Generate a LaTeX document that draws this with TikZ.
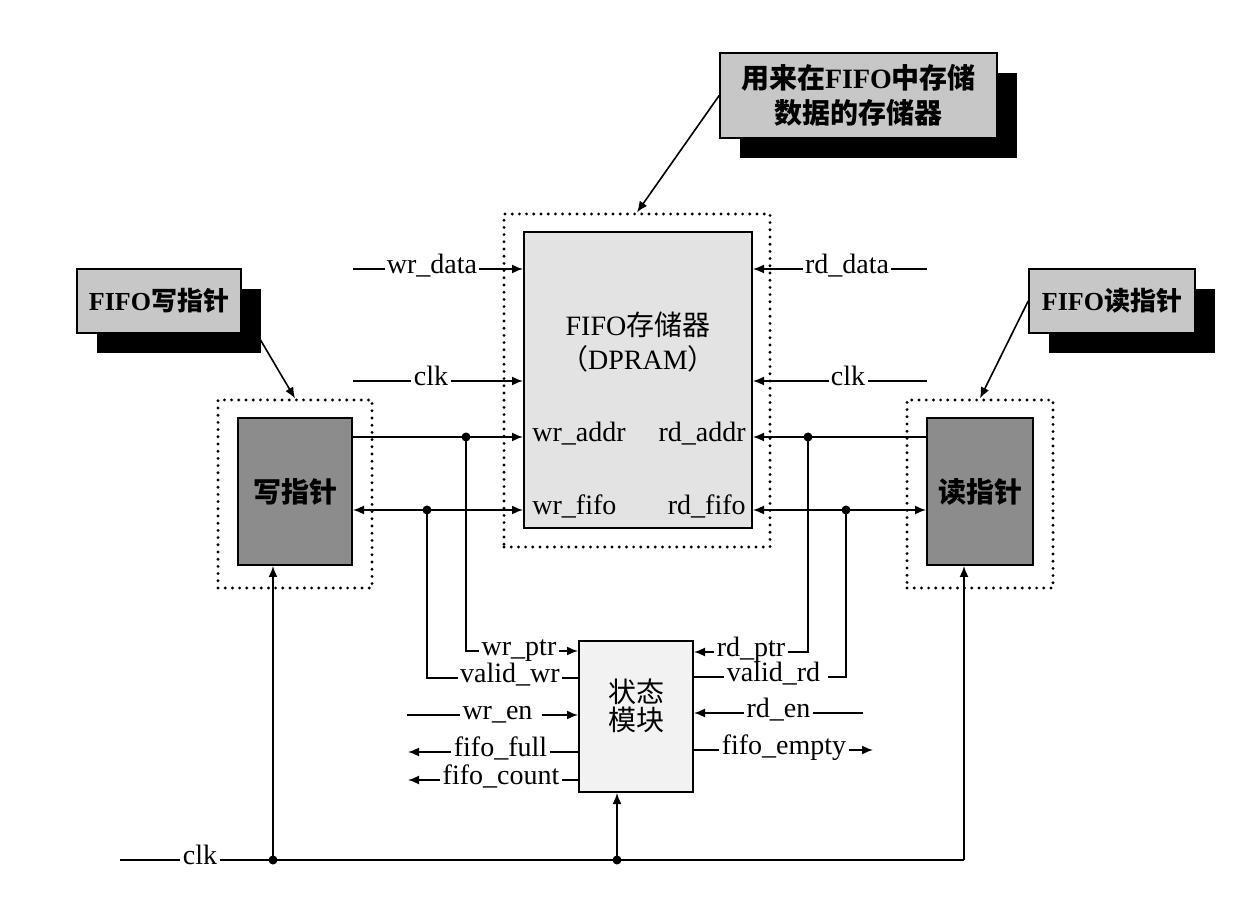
\documentclass[tikz,border=0pt]{standalone}
\usepackage{fontspec}
\setmainfont{Liberation Serif}
\newfontfamily\cjk{Noto Sans CJK SC}
\usetikzlibrary{arrows.meta,calc,shadows}
\begin{document}
\begin{tikzpicture}[x=0.5pt,y=-0.5pt,
  sig/.style={font=\fontsize{14}{16}\selectfont, inner sep=1pt, text height=0.7em, text depth=0.25em},
  wire/.style={line width=0.8pt},
  arr/.style={wire,-{Latex[length=5.5pt,width=4.5pt]}},
  biarr/.style={wire,{Latex[length=5.5pt,width=4.5pt]}-{Latex[length=5.5pt,width=4.5pt]}},
  dotbox/.style={draw, line width=1.6pt, dash pattern=on 0pt off 3.6pt, line cap=round, inner sep=0pt},
  blk/.style={draw, line width=1pt, inner sep=0pt},
  jdot/.style={circle, fill, inner sep=0pt, minimum size=4.5pt},
  note/.style={draw, line width=0.8pt, fill=black!22, inner sep=0pt, align=center,
     drop shadow={shadow xshift=10pt, shadow yshift=-10pt, opacity=1, fill=black}},
]
\useasboundingbox (0,0) rectangle (1255,909);

% dotted frames
\node[dotbox, minimum width=133pt, minimum height=166.5pt] (drdot) at (637,380.5) {};
\node[dotbox, minimum width=77pt, minimum height=94pt] (wrdot) at (295,494) {};
\node[dotbox, minimum width=73pt, minimum height=94pt] (rddot) at (980,494) {};

% blocks
\node[blk, fill=black!11, minimum width=114pt, minimum height=148pt] (dram) at (638,380) {};
\node[blk, fill=black!45, minimum width=57pt, minimum height=73.5pt, font=\fontsize{14}{16}\selectfont\cjk\bfseries] (wr) at (295,491.5) {写指针};
\node[blk, fill=black!45, minimum width=53pt, minimum height=73.5pt, font=\fontsize{14}{16}\selectfont\cjk\bfseries] (rd) at (980,491.5) {读指针};
\node[blk, fill=black!5, minimum width=57pt, minimum height=75.5pt] (status) at (636,716.5) {};

\node[align=center, font=\fontsize{14}{17}\selectfont] (dramlbl) at (638,342) {FIFO{\cjk 存储器}\\{\cjk （}DPRAM{\cjk ）}};
\node[align=center, font=\fontsize{14}{14}\selectfont\cjk] (statuslbl) at (636,706) {状态\\模块};

% notes
\node[note, minimum width=138.5pt, minimum height=42.5pt, font=\fontsize{14}{17.5}\selectfont\bfseries] (labtop) at (858.5,95.5) {{\cjk 用来在}FIFO{\cjk 中存储}\\{\cjk 数据的存储器}};
\node[note, minimum width=82pt, minimum height=32pt, font=\fontsize{13}{15}\selectfont\bfseries] (labwr) at (159,301) {FIFO{\cjk 写指针}};
\node[note, minimum width=83pt, minimum height=32pt, font=\fontsize{13}{15}\selectfont\bfseries] (labrd) at (1112,301) {FIFO{\cjk 读指针}};

\draw[arr] (labtop.west) -- (drdot.north);
\draw[arr] ($(labwr.south east)+(18,5)$) -- (wrdot.north);
\draw[arr] (labrd.west) -- (rddot.north);

% inside DPRAM
\node[sig, anchor=west] (wraddr) at (530,437) {wr\_addr};
\node[sig, anchor=west] (wrfifo) at (530,510) {wr\_fifo};
\node[sig, anchor=east] (rdaddr) at (748,437) {rd\_addr};
\node[sig, anchor=east] (rdfifo) at (748,510) {rd\_fifo};

% left inputs of DPRAM
\coordinate (wrdataIn) at (353,269);
\node[sig] (wrdata) at (432,269) {wr\_data};
\draw[wire] (wrdataIn) -- (wrdata.west);
\draw[arr] (wrdata.east) -- (dram.west |- wrdata);
\coordinate (clklIn) at (353,381);
\node[sig] (clkl) at (431,381) {clk};
\draw[wire] (clklIn) -- (clkl.west);
\draw[arr] (clkl.east) -- (dram.west |- clkl);

% right inputs of DPRAM
\coordinate (rddataIn) at (927,269);
\node[sig] (rddata) at (847,269) {rd\_data};
\draw[wire] (rddataIn) -- (rddata.east);
\draw[arr] (rddata.west) -- (dram.east |- rddata);
\coordinate (clkrIn) at (927,381);
\node[sig] (clkr) at (848,381) {clk};
\draw[wire] (clkrIn) -- (clkr.east);
\draw[arr] (clkr.west) -- (dram.east |- clkr);

% address / fifo rows
\draw[arr] (wr.east |- wraddr) -- (dram.west |- wraddr);
\draw[biarr] (wr.east |- wrfifo) -- (dram.west |- wrfifo);
\draw[arr] (rd.west |- rdaddr) -- (dram.east |- rdaddr);
\draw[biarr] (dram.east |- rdfifo) -- (rd.west |- rdfifo);
\node[jdot] (dwa) at (466,437) {};
\node[jdot] (dwf) at (427,510) {};
\node[jdot] (dra) at (808,437) {};
\node[jdot] (drf) at (846,510) {};

% status block, left side
\node[sig] (wrptr) at (519,651) {wr\_ptr};
\draw[wire] (dwa.center) |- (wrptr.west);
\draw[arr] (wrptr.east) -- (status.west |- wrptr);
\node[sig] (validwr) at (510,678) {valid\_wr};
\draw[wire] (dwf.center) |- (validwr.west);
\draw[wire] (validwr.east) -- (status.west |- validwr);
\coordinate (wrenIn) at (407,715);
\node[sig] (wren) at (497.5,715) {wr\_en};
\draw[wire] (wrenIn) -- (wren.west);
\draw[arr] ($(wren.east)+(7,0)$) -- (status.west |- wren);
\coordinate (ffullOut) at (408,752);
\node[sig] (ffull) at (500.5,752) {fifo\_full};
\draw[arr] (ffull.west) -- (ffullOut);
\draw[wire] (ffull.east) -- (status.west |- ffull);
\coordinate (fcountOut) at (408,780);
\node[sig] (fcount) at (501,780) {fifo\_count};
\draw[arr] (fcount.west) -- (fcountOut);
\draw[wire] (fcount.east) -- (status.west |- fcount);

% status block, right side
\node[sig] (rdptr) at (751,652) {rd\_ptr};
\draw[wire] (dra.center) |- (rdptr.east);
\draw[arr] (rdptr.west) -- (status.east |- rdptr);
\node[sig] (validrd) at (773.5,677) {valid\_rd};
\draw[wire] (status.east |- validrd) -- (validrd.west);
\draw[wire] (drf.center) |- ($(validrd.east)+(5,0)$);
\coordinate (rdenIn) at (863,713);
\node[sig] (rden) at (778.5,713) {rd\_en};
\draw[wire] (rdenIn) -- (rden.east);
\draw[arr] (rden.west) -- (status.east |- rden);
\coordinate (femptyOut) at (873,750);
\node[sig] (fempty) at (784,750) {fifo\_empty};
\draw[wire] (status.east |- fempty) -- (fempty.west);
\draw[arr] (fempty.east) -- (femptyOut);

% bottom clock
\coordinate (clkbIn) at (120,860);
\node[sig] (clkb) at (200,860) {clk};
\coordinate (clkbR) at (964,860);
\draw[wire] (clkbIn) -- (clkb.west);
\draw[wire] (clkb.east) -- (clkbR);
\draw[arr] (clkbR) -- (clkbR |- rd.south);
\node[jdot] (dc1) at (273,860) {};
\node[jdot] (dc2) at (617,860) {};
\draw[arr] (dc1.center) -- (dc1 |- wr.south);
\draw[arr] (dc2.center) -- (dc2 |- status.south);
\end{tikzpicture}
\end{document}
